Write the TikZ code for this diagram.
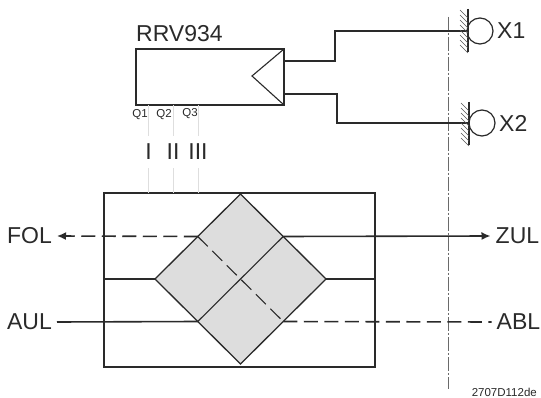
\documentclass[tikz,border=0pt]{standalone}
\usepackage{fontspec}
\setmainfont{Liberation Sans}
\usepackage{xcolor}
\usetikzlibrary{shapes.geometric, arrows.meta}
\definecolor{ink}{HTML}{2A2A2A}
\definecolor{valvefill}{HTML}{DDDDDD}
\definecolor{tapline}{HTML}{DEDEDE}
\tikzstyle{bigtext} = [inner sep=5pt, text=ink, font=\fontsize{23}{24}\selectfont]
\tikzstyle{smalltext} = [inner sep=0pt, text=ink, font=\fontsize{11.5}{12}\selectfont]
\tikzstyle{numeral} = [inner sep=0pt, minimum height=32pt, text=ink, font=\fontsize{23}{24}\selectfont]
\tikzstyle{box} = [rectangle, draw=ink, line width=1.6pt, inner sep=0pt, outer sep=0pt]
\tikzstyle{valve} = [diamond, draw=ink, fill=valvefill, line width=1.3pt, inner sep=0pt, outer sep=0pt, aspect=1, minimum width=171pt, minimum height=170pt]
\tikzstyle{port} = [circle, draw=ink, line width=1.2pt, inner sep=0pt, outer sep=0pt, minimum size=26pt]
\tikzstyle{wire} = [draw=ink, line width=1.1pt]
\tikzstyle{flow} = [draw=ink, line width=1.6pt]
\tikzstyle{flowdash} = [flow, dash pattern=on 14pt off 6.5pt]
\tikzstyle{arrow} = [-{Latex[length=9pt,width=8pt]}]
\tikzstyle{tap} = [draw=tapline, line width=0.8pt]
\tikzstyle{border} = [draw=ink!70, line width=0.8pt, dash pattern=on 14pt off 2pt on 2pt off 2pt]
\begin{document}
\begin{tikzpicture}[x=1pt,y=-1pt]
	\useasboundingbox (0,0) rectangle (541,398);
	\fill [white] (0,0) rectangle (541,398);

	\node (rrv) [box, minimum width=148pt, minimum height=56pt] at (210,77) {};
	\node (rrvname) [bigtext, anchor=south west] at (131,47) {RRV934};
	\coordinate (apex) at (252,76);
	\coordinate (outa) at (284,61);
	\coordinate (outb) at (284,94);
	\node (qone) [smalltext] at (140,115) {Q1};
	\node (qtwo) [smalltext] at (164,115) {Q2};
	\node (qthree) [smalltext] at (190,114) {Q3};
	\node (numi) [numeral] at (148.5,152) {I};
	\node (numii) [numeral] at (173,152) {II};
	\node (numiii) [numeral] at (198,152) {III};

	\node (mixbox) [box, minimum width=271pt, minimum height=174pt] at (239.5,280) {};
	\node (mix) [valve] at (240.5,279) {};

	\node (fol) [bigtext, anchor=east] at (57,236) {FOL};
	\node (aul) [bigtext, anchor=east] at (57,322) {AUL};
	\node (zul) [bigtext, anchor=west] at (490.5,236) {ZUL};
	\node (abl) [bigtext, anchor=west] at (491.5,322) {ABL};

	\node (portone) [port] at (480,31) {};
	\node (porttwo) [port] at (482,123) {};
	\node (xone) [bigtext, anchor=west] at (492,31) {X1};
	\node (xtwo) [bigtext, anchor=west] at (494,123) {X2};
	\node (drawno) [smalltext, anchor=east] at (537,392) {2707D112de};

	\coordinate (sepa) at (448,17);
	\coordinate (sepb) at (448,389);
	\draw [border] (sepa) -- (sepb);

	\draw [wire] (rrv.north east) -- (apex) -- (rrv.south east);
	\draw [wire] (outa) -- ++(51,0) |- (portone.west);
	\draw [wire] (outb) -- ++(53,0) |- (porttwo.west);

	\foreach \nm in {numi,numii,numiii} {
		\draw [tap] (rrv.south -| \nm.north) -- (\nm.north);
		\draw [tap] (\nm.south) -- (\nm.south |- mixbox.north);
	}

	\draw [wire] (468,9) -- (468,52);
	\draw [wire] (469,102) -- (469,145);
	\foreach \y in {10,15,...,45} {
		\draw [ink!80, line width=0.5pt] (460,\y) -- (468,\y+8);
		\draw [ink!80, line width=0.5pt] (461,\y+93) -- (469,\y+101);
	}

	\draw [flowdash, arrow] (mix.north west) -- (fol.east);
	\draw [flow] (aul.east) -- (mix.south west);
	\draw [flow, arrow] (mix.north east) -- (zul.west);
	\draw [flowdash] (mix.south east) -- (abl.west);
	\draw [wire] (mix.south west) -- (mix.north east);
	\draw [wire, dash pattern=on 14pt off 6.5pt] (mix.north west) -- (mix.south east);
	\draw [wire] (mixbox.west |- mix.west) -- (mix.west);
	\draw [wire] (mix.east) -- (mixbox.east |- mix.east);
\end{tikzpicture}
\end{document}
